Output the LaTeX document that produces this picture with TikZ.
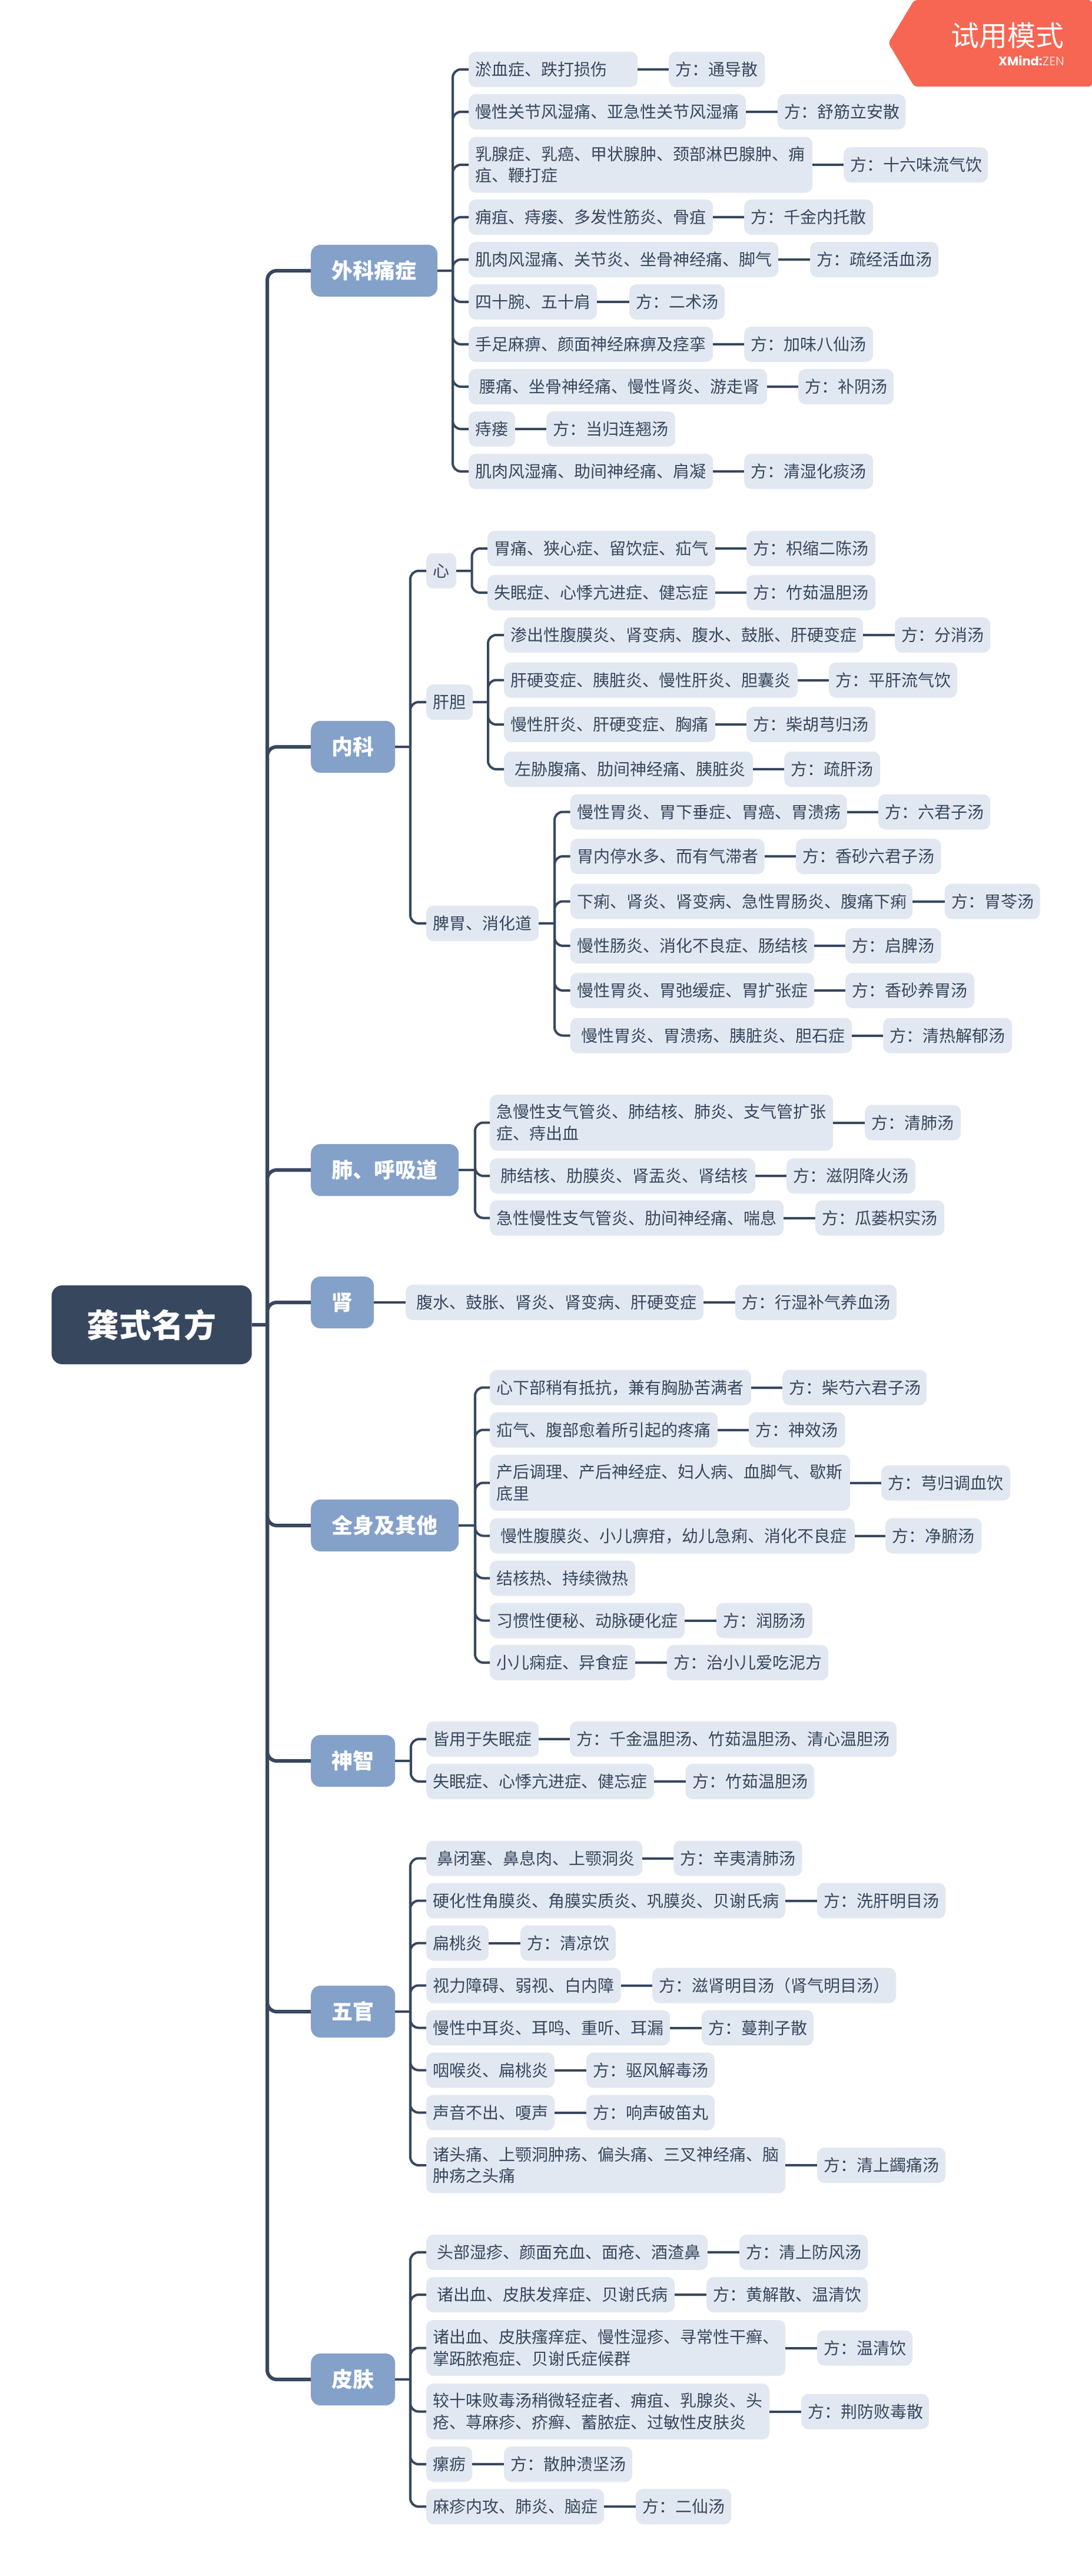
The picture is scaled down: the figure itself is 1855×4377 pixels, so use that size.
\documentclass[tikz,border=0pt]{standalone}
\usepackage{fontspec}
\setmainfont{Noto Sans CJK SC}
\newfontfamily\badgefont{Poppins}
\definecolor{rootcol}{HTML}{37475E}
\definecolor{topiccol}{HTML}{84A1C9}
\definecolor{leafcol}{HTML}{E2E8F1}
\definecolor{badgecol}{HTML}{F66652}
\newcommand{\lnstrut}{\rule[-5pt]{0pt}{31pt}}
\newcommand{\lead}{\hspace*{7pt}}
\tikzset{
    leaf/.style={fill=leafcol, text=rootcol, rounded corners=12pt, anchor=west, align=left, minimum height=60pt, inner xsep=11.5pt, inner ysep=0pt, font=\fontsize{28}{36.5}\selectfont, execute at begin node=\lnstrut, execute at end node=\lnstrut},
    twoline/.style={minimum height=95pt},
    topic/.style={fill=topiccol, text=white, rounded corners=16pt, anchor=west, minimum height=88pt, inner sep=0pt, font=\fontsize{36}{40}\selectfont\bfseries},
    root/.style={fill=rootcol, text=white, rounded corners=18pt, anchor=west, minimum height=134pt, inner sep=0pt, font=\fontsize{55}{60}\selectfont\bfseries},
    trunkline/.style={draw=rootcol, line width=6pt, rounded corners=16pt},
    link/.style={draw=rootcol, line width=4pt, rounded corners=14pt},
}
\begin{document}
\begin{tikzpicture}[x=1pt,y=-1pt]
    \useasboundingbox (0,0) rectangle (1855,4377);

    \node[root, minimum width=340pt] (gs) at (87.5,2251) {龚式名方};
    \coordinate (trunk) at (454,2251);

    \node[topic, minimum width=215pt] (wk) at (528,460) {外科痛症};
    \node[topic, minimum width=143pt] (nk) at (528,1269) {内科};
    \node[topic, minimum width=251pt] (fei) at (528,1988) {肺、呼吸道};
    \node[topic, minimum width=107pt] (shen) at (528,2213) {肾};
    \node[topic, minimum width=251pt] (qs) at (528,2592) {全身及其他};
    \node[topic, minimum width=143pt] (sz) at (528,2992) {神智};
    \node[topic, minimum width=143pt] (wg) at (528,3418) {五官};
    \node[topic, minimum width=143pt] (pf) at (528,4043) {皮肤};

    \draw[trunkline] (gs) -- (trunk);
    \draw[trunkline] (trunk) |- (wk.west);
    \draw[trunkline] (trunk) |- (nk.west);
    \draw[trunkline] (trunk) |- (fei.west);
    \draw[trunkline] (trunk) |- (shen.west);
    \draw[trunkline] (trunk) |- (qs.west);
    \draw[trunkline] (trunk) |- (sz.west);
    \draw[trunkline] (trunk) |- (wg.west);
    \draw[trunkline] (trunk) |- (pf.west);

    \coordinate (wkbus) at (769,460);
    \node[leaf, text width=264pt] (wk1) at (796,118) {淤血症、跌打损伤};
    \node[leaf, text width=140pt] (wk1f) at (1136,118) {方：通导散};
    \node[leaf, text width=448pt] (wk2) at (796,190) {慢性关节风湿痛、亚急性关节风湿痛};
    \node[leaf, text width=194pt] (wk2f) at (1321,190) {方：舒筋立安散};
    \node[leaf, twoline, text width=561pt] (wk3) at (796,280) {乳腺症、乳癌、甲状腺肿、颈部淋巴腺肿、痈\\疽、鞭打症};
    \node[leaf, text width=222pt] (wk3f) at (1433,280) {方：十六味流气饮};
    \node[leaf, text width=392pt] (wk4) at (796,369) {痈疽、痔瘘、多发性筋炎、骨疽};
    \node[leaf, text width=196pt] (wk4f) at (1264,369) {方：千金内托散};
    \node[leaf, text width=503pt] (wk5) at (796,441) {肌肉风湿痛、关节炎、坐骨神经痛、脚气};
    \node[leaf, text width=195pt] (wk5f) at (1376,441) {方：疏经活血汤};
    \node[leaf, text width=195pt] (wk6) at (796,513) {四十腕、五十肩};
    \node[leaf, text width=139pt] (wk6f) at (1069,513) {方：二术汤};
    \node[leaf, text width=392pt] (wk7) at (796,585) {手足麻痹、颜面神经麻痹及痉挛};
    \node[leaf, text width=196pt] (wk7f) at (1264,585) {方：加味八仙汤};
    \node[leaf, text width=484pt] (wk8) at (796,657) {\lead 腰痛、坐骨神经痛、慢性肾炎、游走肾};
    \node[leaf, text width=139pt] (wk8f) at (1356,657) {方：补阴汤};
    \node[leaf, text width=56pt] (wk9) at (796,729) {痔瘘};
    \node[leaf, text width=196pt] (wk9f) at (928,729) {方：当归连翘汤};
    \node[leaf, text width=392pt] (wk10) at (796,801) {肌肉风湿痛、助间神经痛、肩凝};
    \node[leaf, text width=196pt] (wk10f) at (1264,801) {方：清湿化痰汤};

    \draw[link] (wk) -- (wkbus);
    \draw[link] (wkbus) |- (wk1.west);
    \draw[link] (wkbus) |- (wk2.west);
    \draw[link] (wkbus) |- (wk3.west);
    \draw[link] (wkbus) |- (wk4.west);
    \draw[link] (wkbus) |- (wk5.west);
    \draw[link] (wkbus) |- (wk6.west);
    \draw[link] (wkbus) |- (wk7.west);
    \draw[link] (wkbus) |- (wk8.west);
    \draw[link] (wkbus) |- (wk9.west);
    \draw[link] (wkbus) |- (wk10.west);
    \draw[link] (wk1) -- (wk1f);
    \draw[link] (wk2) -- (wk2f);
    \draw[link] (wk3) -- (wk3f);
    \draw[link] (wk4) -- (wk4f);
    \draw[link] (wk5) -- (wk5f);
    \draw[link] (wk6) -- (wk6f);
    \draw[link] (wk7) -- (wk7f);
    \draw[link] (wk8) -- (wk8f);
    \draw[link] (wk9) -- (wk9f);
    \draw[link] (wk10) -- (wk10f);

    \coordinate (nkbus) at (697,1269);
    \node[leaf, text width=28pt] (xin) at (724,970) {心};
    \node[leaf, text width=56pt] (hd) at (724,1193) {肝胆};
    \node[leaf, text width=168pt] (pw) at (724,1569) {脾胃、消化道};
    \coordinate (xinbus) at (801.5,970);
    \coordinate (hdbus) at (829,1193);
    \coordinate (pwbus) at (942,1569);

    \draw[link] (nk) -- (nkbus);
    \draw[link] (nkbus) |- (xin.west);
    \draw[link] (nkbus) |- (hd.west);
    \draw[link] (nkbus) |- (pw.west);
    \draw[link] (xin) -- (xinbus);
    \draw[link] (hd) -- (hdbus);
    \draw[link] (pw) -- (pwbus);

    \node[leaf, text width=364pt] (xin1) at (828,932) {胃痛、狭心症、留饮症、疝气};
    \node[leaf, text width=196pt] (xin1f) at (1268,932) {方：枳缩二陈汤};
    \node[leaf, text width=364pt] (xin2) at (828,1007) {失眠症、心悸亢进症、健忘症};
    \node[leaf, text width=196pt] (xin2f) at (1268,1007) {方：竹茹温胆汤};

    \draw[link] (xinbus) |- (xin1.west);
    \draw[link] (xinbus) |- (xin2.west);
    \draw[link] (xin1) -- (xin1f);
    \draw[link] (xin2) -- (xin2f);

    \node[leaf, text width=587pt] (hd1) at (856,1079) {渗出性腹膜炎、肾变病、腹水、鼓胀、肝硬变症};
    \node[leaf, text width=139pt] (hd1f) at (1520,1079) {方：分消汤};
    \node[leaf, text width=476pt] (hd2) at (856,1155.5) {肝硬变症、胰脏炎、慢性肝炎、胆囊炎};
    \node[leaf, text width=195pt] (hd2f) at (1408,1155.5) {方：平肝流气饮};
    \node[leaf, text width=336pt] (hd3) at (856,1231) {慢性肝炎、肝硬变症、胸痛};
    \node[leaf, text width=196pt] (hd3f) at (1268,1231) {方：柴胡芎归汤};
    \node[leaf, text width=400pt] (hd4) at (856,1307) {\lead 左胁腹痛、肋间神经痛、胰脏炎};
    \node[leaf, text width=140pt] (hd4f) at (1332,1307) {方：疏肝汤};

    \draw[link] (hdbus) |- (hd1.west);
    \draw[link] (hdbus) |- (hd2.west);
    \draw[link] (hdbus) |- (hd3.west);
    \draw[link] (hdbus) |- (hd4.west);
    \draw[link] (hd1) -- (hd1f);
    \draw[link] (hd2) -- (hd2f);
    \draw[link] (hd3) -- (hd3f);
    \draw[link] (hd4) -- (hd4f);

    \node[leaf, text width=447pt] (pw1) at (968.5,1379.5) {慢性胃炎、胃下垂症、胃癌、胃溃疡};
    \node[leaf, text width=167pt] (pw1f) at (1492,1379.5) {方：六君子汤};
    \node[leaf, text width=307pt] (pw2) at (968.5,1455) {胃内停水多、而有气滞者};
    \node[leaf, text width=223.5pt] (pw2f) at (1352,1455) {方：香砂六君子汤};
    \node[leaf, text width=558.5pt] (pw3) at (968.5,1531.5) {下痢、肾炎、肾变病、急性胃肠炎、腹痛下痢};
    \node[leaf, text width=139pt] (pw3f) at (1604.5,1531.5) {方：胃苓汤};
    \node[leaf, text width=391.5pt] (pw4) at (968.5,1607) {慢性肠炎、消化不良症、肠结核};
    \node[leaf, text width=139.5pt] (pw4f) at (1436,1607) {方：启脾汤};
    \node[leaf, text width=391.5pt] (pw5) at (968.5,1683) {慢性胃炎、胃弛缓症、胃扩张症};
    \node[leaf, text width=196pt] (pw5f) at (1436,1683) {方：香砂养胃汤};
    \node[leaf, text width=455.5pt] (pw6) at (968.5,1759.5) {\lead 慢性胃炎、胃溃疡、胰脏炎、胆石症};
    \node[leaf, text width=196pt] (pw6f) at (1500,1759.5) {方：清热解郁汤};

    \draw[link] (pwbus) |- (pw1.west);
    \draw[link] (pwbus) |- (pw2.west);
    \draw[link] (pwbus) |- (pw3.west);
    \draw[link] (pwbus) |- (pw4.west);
    \draw[link] (pwbus) |- (pw5.west);
    \draw[link] (pwbus) |- (pw6.west);
    \draw[link] (pw1) -- (pw1f);
    \draw[link] (pw2) -- (pw2f);
    \draw[link] (pw3) -- (pw3f);
    \draw[link] (pw4) -- (pw4f);
    \draw[link] (pw5) -- (pw5f);
    \draw[link] (pw6) -- (pw6f);

    \coordinate (feibus) at (807,1988);
    \node[leaf, twoline, text width=560pt] (fei1) at (832,1907.5) {急慢性支气管炎、肺结核、肺炎、支气管扩张\\症、痔出血};
    \node[leaf, text width=140pt] (fei1f) at (1469,1907.5) {方：清肺汤};
    \node[leaf, text width=428pt] (fei2) at (832,1998) {\lead 肺结核、肋膜炎、肾盂炎、肾结核};
    \node[leaf, text width=196pt] (fei2f) at (1336,1998) {方：滋阴降火汤};
    \node[leaf, text width=476pt] (fei3) at (832,2069.5) {急性慢性支气管炎、肋间神经痛、喘息};
    \node[leaf, text width=196pt] (fei3f) at (1385,2069.5) {方：瓜蒌枳实汤};

    \draw[link] (fei) -- (feibus);
    \draw[link] (feibus) |- (fei1.west);
    \draw[link] (feibus) |- (fei2.west);
    \draw[link] (feibus) |- (fei3.west);
    \draw[link] (fei1) -- (fei1f);
    \draw[link] (fei2) -- (fei2f);
    \draw[link] (fei3) -- (fei3f);

    \node[leaf, text width=483pt] (shen1) at (689,2213) {\lead 腹水、鼓胀、肾炎、肾变病、肝硬变症};
    \node[leaf, text width=251.5pt] (shen1f) at (1248.5,2213) {方：行湿补气养血汤};

    \draw[link] (shen) -- (shen1);
    \draw[link] (shen1) -- (shen1f);

    \coordinate (qsbus) at (807,2592);
    \node[leaf, text width=421pt] (qs1) at (832,2357.5) {心下部稍有抵抗，兼有胸胁苦满者};
    \node[leaf, text width=222pt] (qs1f) at (1329,2357.5) {方：柴芍六君子汤};
    \node[leaf, text width=364pt] (qs2) at (832,2429.5) {疝气、腹部愈着所引起的疼痛};
    \node[leaf, text width=140.5pt] (qs2f) at (1272,2429.5) {方：神效汤};
    \node[leaf, twoline, text width=589pt] (qs3) at (832,2519.5) {产后调理、产后神经症、妇人病、血脚气、歇斯\\底里};
    \node[leaf, text width=196pt] (qs3f) at (1497,2519.5) {方：芎归调血饮};
    \node[leaf, text width=597pt] (qs4) at (832,2609.5) {\lead 慢性腹膜炎、小儿痹疳，幼儿急痢、消化不良症};
    \node[leaf, text width=140.5pt] (qs4f) at (1504,2609.5) {方：净腑汤};
    \node[leaf, text width=224pt] (qs5) at (832,2681.5) {结核热、持续微热};
    \node[leaf, text width=308pt] (qs6) at (832,2753.5) {习惯性便秘、动脉硬化症};
    \node[leaf, text width=140.5pt] (qs6f) at (1216.5,2753.5) {方：润肠汤};
    \node[leaf, text width=224pt] (qs7) at (832,2825) {小儿痫症、异食症};
    \node[leaf, text width=251.5pt] (qs7f) at (1132.5,2825) {方：治小儿爱吃泥方};

    \draw[link] (qs) -- (qsbus);
    \draw[link] (qsbus) |- (qs1.west);
    \draw[link] (qsbus) |- (qs2.west);
    \draw[link] (qsbus) |- (qs3.west);
    \draw[link] (qsbus) |- (qs4.west);
    \draw[link] (qsbus) |- (qs5.west);
    \draw[link] (qsbus) |- (qs6.west);
    \draw[link] (qsbus) |- (qs7.west);
    \draw[link] (qs1) -- (qs1f);
    \draw[link] (qs2) -- (qs2f);
    \draw[link] (qs3) -- (qs3f);
    \draw[link] (qs4) -- (qs4f);
    \draw[link] (qs6) -- (qs6f);
    \draw[link] (qs7) -- (qs7f);

    \coordinate (szbus) at (698,2992);
    \node[leaf, text width=168pt] (sz1) at (724,2955) {皆用于失眠症};
    \node[leaf, text width=532pt] (sz1f) at (968,2955) {方：千金温胆汤、竹茹温胆汤、清心温胆汤};
    \node[leaf, text width=364pt] (sz2) at (724,3027) {失眠症、心悸亢进症、健忘症};
    \node[leaf, text width=195.5pt] (sz2f) at (1164.5,3027) {方：竹茹温胆汤};

    \draw[link] (sz) -- (szbus);
    \draw[link] (szbus) |- (sz1.west);
    \draw[link] (szbus) |- (sz2.west);
    \draw[link] (sz1) -- (sz1f);
    \draw[link] (sz2) -- (sz2f);

    \coordinate (wgbus) at (697,3418);
    \node[leaf, text width=344pt] (wg1) at (724,3157.5) {\lead 鼻闭塞、鼻息肉、上颚洞炎};
    \node[leaf, text width=195.5pt] (wg1f) at (1144,3157.5) {方：辛夷清肺汤};
    \node[leaf, text width=587pt] (wg2) at (724,3229.5) {硬化性角膜炎、角膜实质炎、巩膜炎、贝谢氏病};
    \node[leaf, text width=195pt] (wg2f) at (1388,3229.5) {方：洗肝明目汤};
    \node[leaf, text width=83pt] (wg3) at (724,3301.5) {扁桃炎};
    \node[leaf, text width=139pt] (wg3f) at (884,3301.5) {方：清凉饮};
    \node[leaf, text width=307.5pt] (wg4) at (724,3373.5) {视力障碍、弱视、白内障};
    \node[leaf, text width=391pt] (wg4f) at (1108,3373.5) {方：滋肾明目汤（肾气明目汤）};
    \node[leaf, text width=391pt] (wg5) at (724,3445.5) {慢性中耳炎、耳鸣、重听、耳漏};
    \node[leaf, text width=167pt] (wg5f) at (1192,3445.5) {方：蔓荆子散};
    \node[leaf, text width=195pt] (wg6) at (724,3517.5) {咽喉炎、扁桃炎};
    \node[leaf, text width=195pt] (wg6f) at (996,3517.5) {方：驱风解毒汤};
    \node[leaf, text width=195pt] (wg7) at (724,3589.5) {声音不出、嗄声};
    \node[leaf, text width=195pt] (wg7f) at (996,3589.5) {方：响声破笛丸};
    \node[leaf, twoline, text width=587pt] (wg8) at (724,3679) {诸头痛、上颚洞肿疡、偏头痛、三叉神经痛、脑\\肿疡之头痛};
    \node[leaf, text width=195pt] (wg8f) at (1388,3679) {方：清上蠲痛汤};

    \draw[link] (wg) -- (wgbus);
    \draw[link] (wgbus) |- (wg1.west);
    \draw[link] (wgbus) |- (wg2.west);
    \draw[link] (wgbus) |- (wg3.west);
    \draw[link] (wgbus) |- (wg4.west);
    \draw[link] (wgbus) |- (wg5.west);
    \draw[link] (wgbus) |- (wg6.west);
    \draw[link] (wgbus) |- (wg7.west);
    \draw[link] (wgbus) |- (wg8.west);
    \draw[link] (wg1) -- (wg1f);
    \draw[link] (wg2) -- (wg2f);
    \draw[link] (wg3) -- (wg3f);
    \draw[link] (wg4) -- (wg4f);
    \draw[link] (wg5) -- (wg5f);
    \draw[link] (wg6) -- (wg6f);
    \draw[link] (wg7) -- (wg7f);
    \draw[link] (wg8) -- (wg8f);

    \coordinate (pfbus) at (697,4043);
    \node[leaf, text width=455pt] (pf1) at (724,3827) {\lead 头部湿疹、颜面充血、面疮、酒渣鼻};
    \node[leaf, text width=195pt] (pf1f) at (1256,3827) {方：清上防风汤};
    \node[leaf, text width=399pt] (pf2) at (724,3899) {\lead 诸出血、皮肤发痒症、贝谢氏病};
    \node[leaf, text width=251pt] (pf2f) at (1200,3899) {方：黄解散、温清饮};
    \node[leaf, twoline, text width=587pt] (pf3) at (724,3989.5) {诸出血、皮肤瘙痒症、慢性湿疹、寻常性干癣、\\掌跖脓疱症、贝谢氏症候群};
    \node[leaf, text width=139pt] (pf3f) at (1388,3989.5) {方：温清饮};
    \node[leaf, twoline, text width=560pt] (pf4) at (724,4097.5) {较十味败毒汤稍微轻症者、痈疽、乳腺炎、头\\疮、荨麻疹、疥癣、蓄脓症、过敏性皮肤炎};
    \node[leaf, text width=194pt] (pf4f) at (1361,4097.5) {方：荆防败毒散};
    \node[leaf, text width=55pt] (pf5) at (724,4187) {瘰疬};
    \node[leaf, text width=195pt] (pf5f) at (856,4187) {方：散肿溃坚汤};
    \node[leaf, text width=279pt] (pf6) at (724,4259) {麻疹内攻、肺炎、脑症};
    \node[leaf, text width=139pt] (pf6f) at (1080,4259) {方：二仙汤};

    \draw[link] (pf) -- (pfbus);
    \draw[link] (pfbus) |- (pf1.west);
    \draw[link] (pfbus) |- (pf2.west);
    \draw[link] (pfbus) |- (pf3.west);
    \draw[link] (pfbus) |- (pf4.west);
    \draw[link] (pfbus) |- (pf5.west);
    \draw[link] (pfbus) |- (pf6.west);
    \draw[link] (pf1) -- (pf1f);
    \draw[link] (pf2) -- (pf2f);
    \draw[link] (pf3) -- (pf3f);
    \draw[link] (pf4) -- (pf4f);
    \draw[link] (pf5) -- (pf5f);
    \draw[link] (pf6) -- (pf6f);

    \fill[badgecol, rounded corners=5pt] (1509,73) -- (1553,0) -- (1855,0) -- (1855,147) -- (1553,147) -- cycle;
    \node[text=white, inner sep=0pt, font=\fontsize{48}{50}\selectfont] (trial) at (1711.5,60) {试用模式};
    \node[text=white, anchor=east, inner sep=0pt, font=\fontsize{21}{24}\selectfont\badgefont] (brand) at (1808,103) {\textbf{XMind:}\textcolor{white!70!badgecol}{ZEN}};
\end{tikzpicture}
\end{document}
